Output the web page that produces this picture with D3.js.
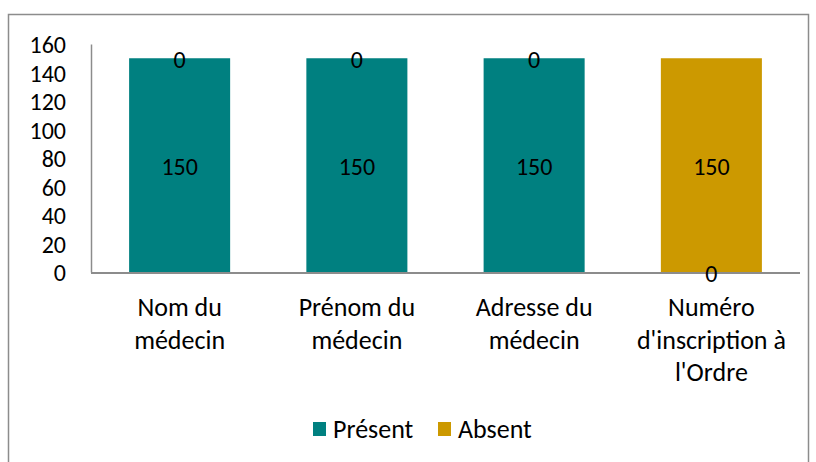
<!DOCTYPE html>
<html><head><meta charset="utf-8">
<script src="https://cdn.jsdelivr.net/npm/d3@7"></script>
<style>body{margin:0;background:#fff}svg text{font-family:Carlito,Lato,"Liberation Sans",sans-serif;fill:#000}</style>
</head><body><svg id="c" width="816" height="462"></svg>
<script>
const categories = [["Nom du","médecin"],["Prénom du","médecin"],["Adresse du","médecin"],["Numéro","d'inscription à","l'Ordre"]];
const present = [150,150,150,0];
const absent = [0,0,0,150];
const seriesNames = ["Présent","Absent"];
const colors = ["#008080","#CC9900"];
const yTicks = [0,20,40,60,80,100,120,140,160];

const svg = d3.select("#c");
svg.append("rect").attr("x",8.5).attr("y",14.5).attr("width",800).attr("height",460)
  .attr("fill","#fff").attr("stroke","#8c8c8c").attr("stroke-width",1.5);

const m = {l:91,r:800,t:44,b:272};
const keys = categories.map((c,i)=>i);
const x = d3.scaleBand().domain(keys).range([m.l,m.r]).paddingInner(0.43).paddingOuter(0.215);
const y = d3.scaleLinear().domain([0,160]).range([m.b,m.t]);

const rows = keys.map(i=>({i, "Présent":present[i], "Absent":absent[i]}));
const stack = d3.stack().keys(seriesNames)(rows);

stack.forEach((s,si)=>{
  svg.append("g").selectAll("rect").data(s).join("rect")
    .attr("x",d=>x(d.data.i)).attr("width",x.bandwidth())
    .attr("y",d=>y(d[1])).attr("height",d=>y(d[0])-y(d[1]))
    .attr("fill",colors[si]);
});

// axes
const yAxis = svg.append("g").attr("transform",`translate(${m.l},0)`)
  .call(d3.axisLeft(y).tickValues(yTicks).tickSize(0).tickPadding(25));
yAxis.select(".domain").attr("stroke","#8c8c8c").attr("stroke-width",1.5);
yAxis.selectAll("text").attr("font-size",24).attr("dy","0.36em").attr("text-anchor","end");

svg.append("line").attr("x1",m.l).attr("x2",m.r).attr("y1",y(0)+1).attr("y2",y(0)+1)
  .attr("stroke","#8c8c8c").attr("stroke-width",2);

// category labels
const cl = svg.append("g");
categories.forEach((lines,i)=>{
  const t = cl.append("text").attr("x",x(i)+x.bandwidth()/2).attr("y",316)
    .attr("text-anchor","middle").attr("font-size",26);
  lines.forEach((ln,k)=>t.append("tspan").attr("x",x(i)+x.bandwidth()/2).attr("dy",k?32.5:0).text(ln));
});

// data labels
stack.forEach((s,si)=>{
  svg.append("g").selectAll("text").data(s).join("text")
    .attr("x",d=>x(d.data.i)+x.bandwidth()/2)
    .attr("y",d=>y((d[0]+d[1])/2)+1)
    .attr("dy","0.36em").attr("text-anchor","middle").attr("font-size",24)
    .text(d=>d[1]-d[0]);
});

// legend
const lg = svg.append("g");
const lx = [313,438];
seriesNames.forEach((n,i)=>{
  lg.append("rect").attr("x",lx[i]).attr("y",422).attr("width",13).attr("height",14).attr("fill",colors[i]);
  lg.append("text").attr("x",lx[i]+20).attr("y",429).attr("dy","0.36em").attr("font-size",26).text(n);
});
</script></body></html>
